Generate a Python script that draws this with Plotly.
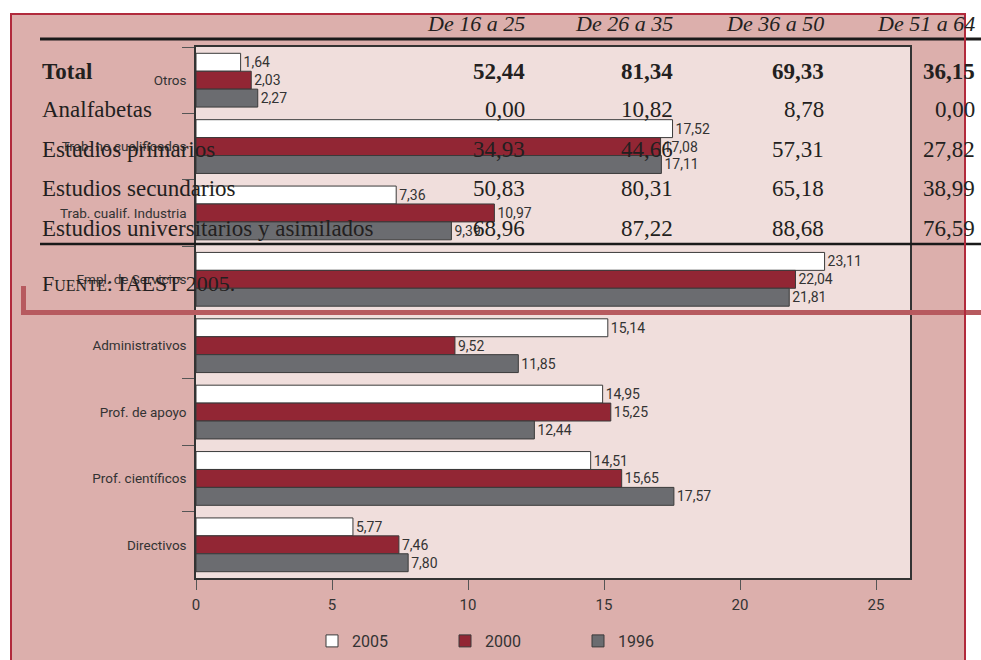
import plotly.graph_objects as go

# ---------------- data ----------------
categories = ["Otros", "Trab. no cualificados", "Trab. cualif. Industria",
              "Empl. de Servicios", "Administrativos", "Prof. de apoyo",
              "Prof. científicos", "Directivos"]
v2005 = [1.64, 17.52, 7.36, 23.11, 15.14, 14.95, 14.51, 5.77]
v2000 = [2.03, 17.08, 10.97, 22.04, 9.52, 15.25, 15.65, 7.46]
v1996 = [2.27, 17.11, 9.39, 21.81, 11.85, 12.44, 17.57, 7.80]
series_names = ["2005", "2000", "1996"]

table_headers = ["De 16 a 25", "De 26 a 35", "De 36 a 50", "De 51 a 64"]
table_rows = ["Total", "Analfabetas", "Estudios primarios",
              "Estudios secundarios", "Estudios universitarios y asimilados"]
table_values = [
    ["52,44", "81,34", "69,33", "36,15"],
    ["0,00", "10,82", "8,78", "0,00"],
    ["34,93", "44,66", "57,31", "27,82"],
    ["50,83", "80,31", "65,18", "38,99"],
    ["68,96", "87,22", "88,68", "76,59"],
]
source_text = "F<span style='font-size:16px'>UENTE</span>: IAEST 2005."

# ---------------- styling ----------------
W, H = 981, 660
L, R, T, B = 196, 910, 47, 578
PAGE = "#dcafac"
PLOT = "#f0dedc"
colors = ["#ffffff", "#922634", "#6b6c70"]
SANS = "Liberation Sans Narrow, Roboto, Liberation Sans, sans-serif"
SERIF = "Liberation Serif, DejaVu Serif, serif"
INK = "#231f20"


def fx(p):
    return (p - L) / (R - L)


def fy(p):
    return (B - p) / (B - T)


fig = go.Figure()
for name, vals, col in zip(series_names, [v2005, v2000, v1996], colors):
    fig.add_trace(go.Bar(
        y=categories, x=vals, name=name, orientation="h",
        marker=dict(color=col, line=dict(color="#3a3a3a", width=1)),
        texttemplate="%{x:.2f}", textposition="outside",
        textfont=dict(family=SANS, size=14, color="#333333"),
        constraintext="none", cliponaxis=False,
    ))

shapes = [
    # page background
    dict(type="rect", xref="paper", yref="paper", x0=fx(11), x1=fx(965),
         y0=fy(720), y1=fy(14), fillcolor=PAGE, line=dict(width=0), layer="below"),
    # plot background
    dict(type="rect", xref="paper", yref="paper", x0=0, x1=1, y0=0, y1=1,
         fillcolor=PLOT, line=dict(width=0), layer="below"),
    # table rules
    dict(type="line", xref="paper", yref="paper", x0=fx(40), x1=fx(985),
         y0=fy(39), y1=fy(39), line=dict(color="#1a1a1a", width=3), layer="above"),
    dict(type="line", xref="paper", yref="paper", x0=fx(40), x1=fx(985),
         y0=fy(244), y1=fy(244), line=dict(color="#1a1a1a", width=2.5), layer="above"),
    # red bracket
    dict(type="path", xref="paper", yref="paper",
         path=f"M {fx(23.5)} {fy(286)} L {fx(23.5)} {fy(312.5)} L {fx(985)} {fy(312.5)}",
         line=dict(color="#b75a5f", width=5), layer="above"),
    # page border
    dict(type="rect", xref="paper", yref="paper", x0=fx(11), x1=fx(965),
         y0=fy(720), y1=fy(14), fillcolor="rgba(0,0,0,0)",
         line=dict(color="#b12a3c", width=2), layer="above"),
]

annotations = []
col_right = [527, 675, 826, 977]
row_y = [71, 109, 149, 188, 228]
for h, xr in zip(table_headers, col_right):
    annotations.append(dict(xref="paper", yref="paper", x=fx(xr), y=fy(24),
                            xanchor="right", yanchor="middle", showarrow=False,
                            text=f"<i>{h}</i>",
                            font=dict(family=SERIF, size=22, color=INK)))
for i, (lab, vals, yy) in enumerate(zip(table_rows, table_values, row_y)):
    bold = i == 0
    t = f"<b>{lab}</b>" if bold else lab
    annotations.append(dict(xref="paper", yref="paper", x=fx(40), y=fy(yy),
                            xanchor="left", yanchor="middle", showarrow=False,
                            text=t, font=dict(family=SERIF, size=23, color=INK)))
    for v, xr in zip(vals, col_right):
        tv = f"<b>{v}</b>" if bold else v
        annotations.append(dict(xref="paper", yref="paper", x=fx(xr), y=fy(yy),
                                xanchor="right", yanchor="middle", showarrow=False,
                                text=tv, font=dict(family=SERIF, size=23, color=INK)))
annotations.append(dict(xref="paper", yref="paper", x=fx(40), y=fy(283),
                        xanchor="left", yanchor="middle", showarrow=False,
                        text=source_text,
                        font=dict(family=SERIF, size=22, color=INK)))

fig.update_layout(
    width=W, height=H,
    margin=dict(l=L, r=W - R, t=T, b=H - B, pad=0, autoexpand=False),
    paper_bgcolor="white", plot_bgcolor="rgba(0,0,0,0)",
    barmode="group", bargap=0.19, bargroupgap=0,
    separators=",.",
    shapes=shapes, annotations=annotations,
    showlegend=True,
    legend=dict(orientation="h", x=fx(312), y=fy(641), xanchor="left",
                yanchor="middle", bgcolor="rgba(0,0,0,0)",
                font=dict(family=SANS, size=16, color="#333333"),
                entrywidth=88, traceorder="normal"),
    xaxis=dict(range=[0, 26.25], tickvals=[0, 5, 10, 15, 20, 25],
               ticks="outside", ticklen=10, tickcolor="#555555",
               showline=True, linecolor="#333333", linewidth=1.5, mirror=True,
               showgrid=False, zeroline=False, ticklabelstandoff=2,
               automargin=False,
               tickfont=dict(family=SANS, size=15, color="#333333")),
    yaxis=dict(range=[7.5, -0.5], ticks="outside", ticklen=12,
               tickson="boundaries", tickcolor="#555555",
               showline=True, linecolor="#333333", linewidth=1.5, mirror=True,
               showgrid=False, zeroline=False, ticklabelstandoff=5,
               automargin=False,
               tickfont=dict(family=SANS, size=13.5, color="#333333")),
)

fig.write_html("out.html", config={"displayModeBar": False},
               post_script="document.body.style.margin='0';document.body.style.overflow='hidden';")
